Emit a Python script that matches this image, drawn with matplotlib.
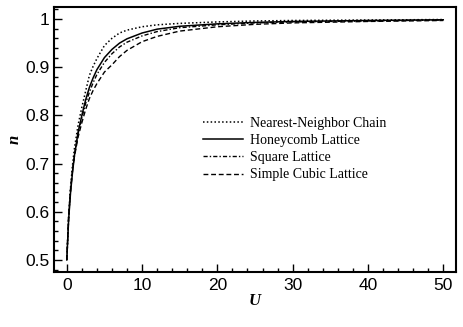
import numpy as np
import matplotlib
matplotlib.use("Agg")
import matplotlib.pyplot as plt
from matplotlib.ticker import MultipleLocator

U = [0, 0.25, 0.5, 0.75, 1, 1.5, 2, 2.5, 3, 3.5, 4, 5, 6, 7, 8, 10, 12, 15, 20, 25, 30, 40, 50]

n_chain = [0.5, 0.59, 0.65, 0.695, 0.73, 0.78, 0.817, 0.85, 0.883, 0.902, 0.918, 0.945, 0.96, 0.971,
           0.977, 0.984, 0.988, 0.991, 0.994, 0.996, 0.997, 0.998, 0.999]
n_honey = [0.5, 0.585, 0.64, 0.68, 0.715, 0.765, 0.80, 0.832, 0.858, 0.878, 0.895, 0.92, 0.937, 0.95,
           0.959, 0.971, 0.979, 0.985, 0.990, 0.993, 0.995, 0.997, 0.9985]
n_square = [0.5, 0.588, 0.643, 0.683, 0.715, 0.762, 0.795, 0.825, 0.848, 0.868, 0.885, 0.91, 0.928, 0.942,
            0.952, 0.965, 0.974, 0.982, 0.988, 0.992, 0.994, 0.996, 0.998]
n_cubic = [0.5, 0.595, 0.648, 0.685, 0.713, 0.755, 0.785, 0.812, 0.835, 0.852, 0.866, 0.89, 0.905, 0.922,
           0.935, 0.953, 0.964, 0.975, 0.984, 0.989, 0.992, 0.995, 0.997]

labels = ["Nearest-Neighbor Chain", "Honeycomb Lattice", "Square Lattice", "Simple Cubic Lattice"]

fig = plt.figure(figsize=(4.63, 3.27), dpi=100)
ax = fig.add_axes([0.1166, 0.1682, 0.8684, 0.8104])

ax.plot(U, n_chain, color="black", lw=1.1, linestyle=(0, (1, 1.5)), label=labels[0])
ax.plot(U, n_honey, color="black", lw=1.1, linestyle="-", label=labels[1])
ax.plot(U, n_square, color="black", lw=1.0, linestyle=(0, (3, 1.5, 1, 1.5)), label=labels[2])
ax.plot(U, n_cubic, color="black", lw=1.0, linestyle=(0, (3.5, 2)), label=labels[3])

ax.set_xlim(-1.7, 51.7)
ax.set_ylim(0.475, 1.025)
ax.xaxis.set_major_locator(MultipleLocator(10))
ax.xaxis.set_minor_locator(MultipleLocator(2))
ax.yaxis.set_minor_locator(MultipleLocator(0.02))
ax.set_yticks([0.5, 0.6, 0.7, 0.8, 0.9, 1.0])
ax.set_yticklabels(["0.5", "0.6", "0.7", "0.8", "0.9", "1"])

ax.tick_params(which="both", direction="in", top=False, right=False, width=1)
ax.tick_params(axis="y", which="major", length=6, labelsize=12.5, pad=3)
ax.tick_params(axis="x", which="major", length=6, labelsize=12.5, pad=4)
ax.tick_params(which="minor", length=3)
for lab in ax.get_xticklabels() + ax.get_yticklabels():
    lab.set_fontfamily("Liberation Sans")
for sp in ax.spines.values():
    sp.set_linewidth(1.5)

ax.set_xlabel("U", fontfamily="Liberation Serif", fontstyle="italic", fontweight="bold", fontsize=12, labelpad=0)
ax.set_ylabel("n", fontfamily="Liberation Serif", fontstyle="italic", fontweight="bold", fontsize=12, labelpad=2)

ax.legend(loc="upper left", bbox_to_anchor=(0.371, 0.585), frameon=False, borderpad=0, borderaxespad=0,
          handlelength=2.9, handletextpad=0.5, labelspacing=0.3,
          prop={"family": "Liberation Serif", "size": 10})

fig.savefig("out.png", dpi=100)
